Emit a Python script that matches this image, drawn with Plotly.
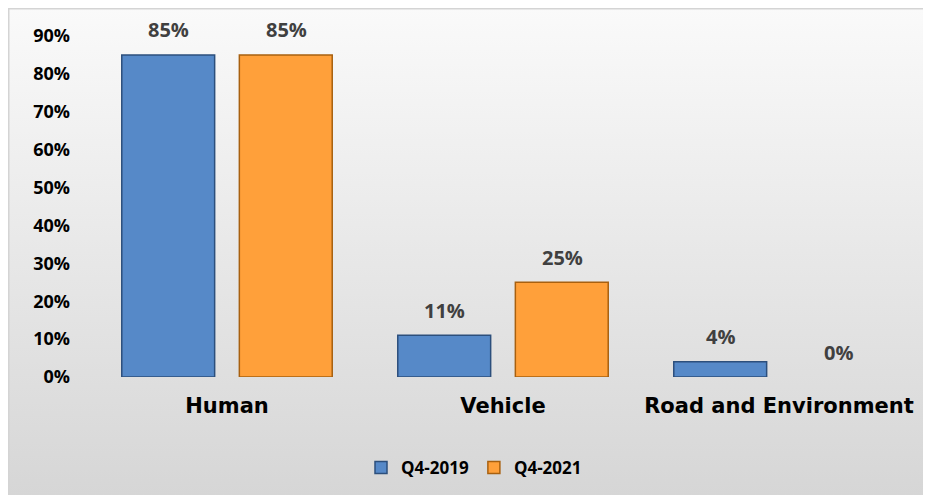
import base64
import plotly.graph_objects as go

categories = ["Human", "Vehicle", "Road and Environment"]
series_names = ["Q4-2019", "Q4-2021"]
q4_2019 = [0.85, 0.11, 0.04]
q4_2021 = [0.85, 0.25, 0.00]
y_ticks = [0, 0.1, 0.2, 0.3, 0.4, 0.5, 0.6, 0.7, 0.8, 0.9]

# the page body has an 8px margin, so the figure is sized to fit the window
W, H = 923, 487
ML, MR, MT, MB = 81, 14, 28, 118
PW, PH = W - ML - MR, H - MT - MB

fill_colors = ["#5689c8", "#ffa03a"]
edge_colors = ["#2c4f7c", "#a8600f"]

fig = go.Figure()
for name, vals, fc, ec in zip(series_names, [q4_2019, q4_2021], fill_colors, edge_colors):
    fig.add_trace(go.Bar(
        x=categories, y=vals, name=name,
        marker=dict(color=fc, line=dict(color=ec, width=[1.5 if v > 0 else 0 for v in vals])),
        hoverinfo="skip",
    ))

# data labels
slot_shift = 59
for vals, shift in zip([q4_2019, q4_2021], [-slot_shift, slot_shift]):
    for c, v in zip(categories, vals):
        fig.add_annotation(
            x=c, y=v, text=f"{round(v*100)}%", showarrow=False,
            xshift=shift, yshift=25, yanchor="middle",
            font=dict(family="Open Sans", size=20, color="#404040", weight="bold"),
        )

# background gradient with thin frame on top/left
svg = f'''<svg xmlns="http://www.w3.org/2000/svg" width="{W}" height="{H}" viewBox="0 0 {W} {H}" preserveAspectRatio="none">
<defs><linearGradient id="g" x1="0" y1="0" x2="0" y2="1">
<stop offset="0" stop-color="#fafafa"/><stop offset="1" stop-color="#d6d6d6"/></linearGradient></defs>
<rect x="0" y="0" width="{W}" height="{H}" fill="url(#g)"/>
<line x1="0" y1="0.75" x2="{W}" y2="0.75" stroke="#d4d4d4" stroke-width="1.5"/>
<line x1="0.75" y1="0" x2="0.75" y2="{H}" stroke="#d4d4d4" stroke-width="1.5"/>
</svg>'''
src = "data:image/svg+xml;base64," + base64.b64encode(svg.encode()).decode()
fig.add_layout_image(dict(
    source=src, xref="paper", yref="paper",
    x=-ML / PW, y=1 + MT / PH, sizex=W / PW, sizey=H / PH,
    xanchor="left", yanchor="top", sizing="stretch", layer="below",
))

fig.update_layout(
    width=W, height=H,
    margin=dict(l=ML, r=MR, t=MT, b=MB),
    paper_bgcolor="#ffffff", plot_bgcolor="rgba(0,0,0,0)",
    barmode="group", bargap=0.148, bargroupgap=0.21,
    showlegend=True,
    legend=dict(
        orientation="h", xref="container", yref="container",
        x=466 / W, xanchor="center", y=1 - 460 / H, yanchor="middle",
        font=dict(family="Open Sans", size=17, color="#000000", weight="bold"),
        itemwidth=30, bgcolor="rgba(0,0,0,0)",
    ),
    xaxis=dict(
        showline=False, showgrid=False, ticks="",
        tickfont=dict(family="DejaVu Sans", size=21, color="#000000", weight="bold"),
        ticklabelstandoff=14,
    ),
    yaxis=dict(
        range=[0, 0.9], tickvals=y_ticks, tickformat=".0%",
        showgrid=False, zeroline=False, showline=False, ticks="",
        tickfont=dict(family="Open Sans", size=18, color="#000000", weight="bold"),
        ticklabelstandoff=18,
    ),
)

fig.write_html("out.html")
